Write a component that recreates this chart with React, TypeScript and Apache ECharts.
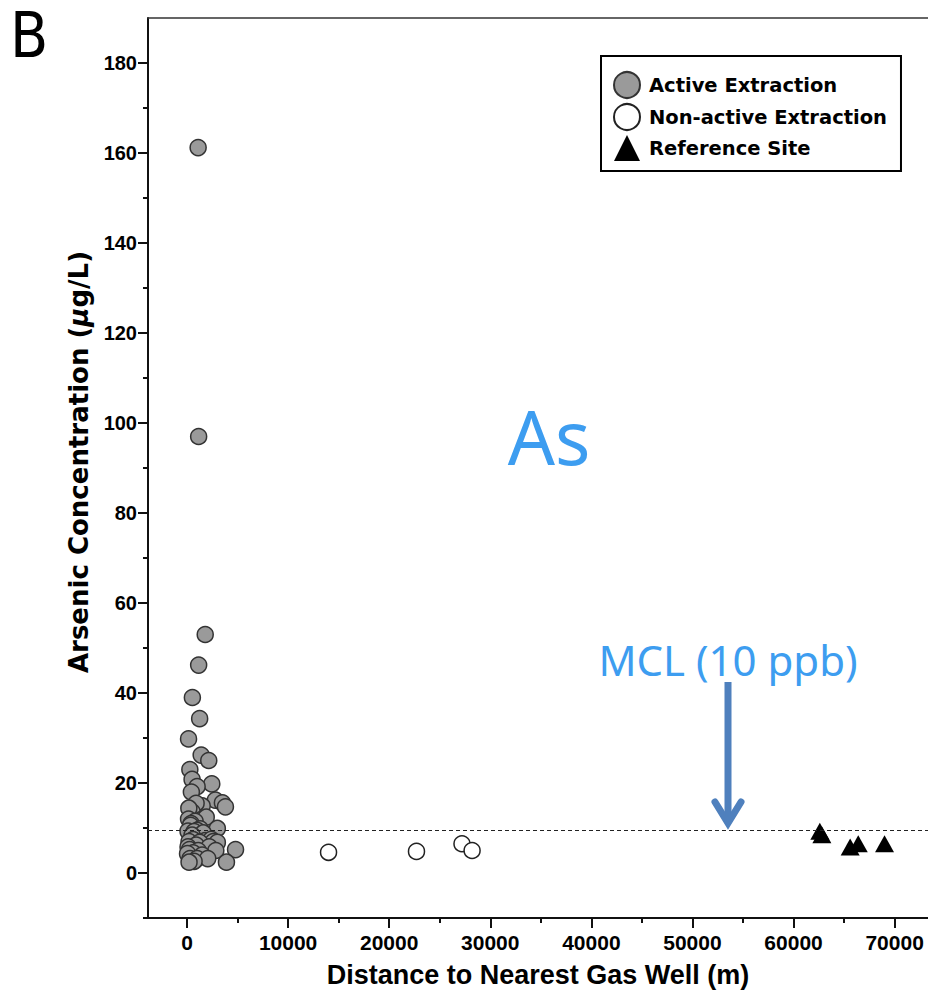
import React, { useEffect, useRef } from "react";
import * as echarts from "echarts";

// ---- data ----
const activeDistance = [
  1100, 1150, 1800, 1150, 530, 1250, 150, 1400, 2150, 280, 2450, 500, 1000, 430, 2800, 3500, 3800, 1500, 900,
  500, 180, 150, 1450, 1900, 800, 400, 350, 3000, 1300, 1000, 100, 700, 1600, 500, 1800, 600, 2400, 200, 2600,
  3000, 1250, 900, 100, 2200, 250, 1100, 2850, 4800, 600, 50, 1500, 300, 1000, 2050, 700, 200, 3900,
];
const activeArsenic = [
  161.2, 97.0, 53.0, 46.2, 39.0, 34.3, 29.8, 26.2, 25.0, 23.0, 19.8, 20.8, 19.2, 18.0, 16.2, 15.6, 14.7, 14.9, 15.5,
  13.6, 14.4, 12.0, 11.9, 12.4, 11.5, 11.0, 10.6, 9.9, 9.8, 9.5, 9.3, 9.2, 8.9, 8.4, 7.2, 7.4, 7.5, 7.0, 7.0,
  6.8, 6.8, 6.2, 5.8, 5.8, 5.2, 5.0, 5.0, 5.2, 4.5, 4.3, 4.0, 3.2, 3.2, 3.2, 2.6, 2.4, 2.4,
];
const nonActiveDistance = [14000, 22700, 27200, 28200];
const nonActiveArsenic = [4.6, 4.8, 6.5, 5.0];
const referenceDistance = [62600, 62800, 65600, 66400, 69000];
const referenceArsenic = [9.3, 8.5, 5.8, 6.5, 6.5];

const mclLevel = 9.4;

const xTickValues = [0, 10000, 20000, 30000, 40000, 50000, 60000, 70000];
const xMinorTickValues = [5000, 15000, 25000, 35000, 45000, 55000, 65000];
const yTickValues = [0, 20, 40, 60, 80, 100, 120, 140, 160, 180];
const yMinorTickValues = [-10, 10, 30, 50, 70, 90, 110, 130, 150, 170];

const seriesNames = ["Active Extraction", "Non-active Extraction", "Reference Site"];

const zip = (xs: number[], ys: number[]) => xs.map((x, i) => [x, ys[i]]);

const SANS = "'Liberation Sans', Arial, Helvetica, sans-serif";
const WIDE = "'DejaVu Sans', Verdana, sans-serif";
const NOTO = "'Noto Sans', 'Open Sans', sans-serif";

export default function App() {
  const ref = useRef<HTMLDivElement>(null);

  useEffect(() => {
    if (!ref.current) return;
    const chart = echarts.init(ref.current, null, { renderer: "svg" });

    const xMin = -3860;
    const xMax = 73300;
    const yMin = -10;
    const yMax = 190;

    const axisLineStyle = { color: "#111", width: 2 };

    chart.setOption({
      animation: false,
      backgroundColor: "#fff",
      grid: { left: 148, right: 0, top: 18, bottom: 74, containLabel: false },
      xAxis: [
        {
          type: "value",
          position: "bottom",
          min: xMin,
          max: xMax,
          axisLine: { show: true, onZero: false, lineStyle: axisLineStyle },
          axisTick: { show: true, length: 10, customValues: xTickValues, lineStyle: { color: "#111", width: 2 } },
          axisLabel: {
            customValues: xTickValues,
            formatter: (v: number) => String(v),
            fontFamily: SANS,
            fontWeight: "bold",
            fontSize: 21,
            color: "#000",
            margin: 14,
          },
          splitLine: { show: false },
          name: "Distance to Nearest Gas Well (m)",
          nameLocation: "middle",
          nameGap: 43,
          nameTextStyle: { fontFamily: SANS, fontWeight: "bold", fontSize: 27, color: "#000" },
        },
        {
          type: "value",
          position: "bottom",
          min: xMin,
          max: xMax,
          axisLine: { show: false, onZero: false },
          axisTick: { show: true, length: 5, customValues: xMinorTickValues, lineStyle: { color: "#111", width: 2 } },
          axisLabel: { show: false },
          splitLine: { show: false },
        },
        {
          type: "value",
          position: "top",
          min: xMin,
          max: xMax,
          axisLine: { show: true, onZero: false, lineStyle: { color: "#333", width: 1.5 } },
          axisTick: { show: false },
          axisLabel: { show: false },
          splitLine: { show: false },
        },
      ],
      yAxis: [
        {
          type: "value",
          position: "left",
          min: yMin,
          max: yMax,
          axisLine: { show: true, onZero: false, lineStyle: axisLineStyle },
          axisTick: { show: true, length: 10, customValues: yTickValues, lineStyle: { color: "#111", width: 2 } },
          axisLabel: {
            customValues: yTickValues,
            fontFamily: SANS,
            fontWeight: "bold",
            fontSize: 20,
            color: "#000",
            margin: 11,
          },
          splitLine: { show: false },
          name: "Arsenic Concentration ({mu|μ}g/L)",
          nameLocation: "middle",
          nameGap: 56,
          nameTextStyle: {
            fontFamily: WIDE,
            fontWeight: "bold",
            fontSize: 26,
            color: "#000",
            padding: [0, 0, 0, 12],
            rich: {
              mu: { fontFamily: WIDE, fontWeight: "bold", fontStyle: "italic", fontSize: 26, color: "#000" },
            },
          },
        },
        {
          type: "value",
          position: "left",
          min: yMin,
          max: yMax,
          axisLine: { show: false, onZero: false },
          axisTick: { show: true, length: 5, customValues: yMinorTickValues, lineStyle: { color: "#111", width: 2 } },
          axisLabel: { show: false },
          splitLine: { show: false },
        },
      ],
      legend: {
        data: [
          { name: seriesNames[0], icon: "circle" },
          { name: seriesNames[1], icon: "circle" },
          { name: seriesNames[2], icon: "triangle" },
        ],
        orient: "vertical",
        left: 601,
        top: 56,
        itemWidth: 26,
        itemHeight: 26,
        itemGap: 4,
        padding: [15, 14, 10, 12],
        borderColor: "#000",
        borderWidth: 2,
        borderRadius: 0,
        backgroundColor: "#fff",
        selectedMode: false,
        textStyle: { fontFamily: WIDE, fontWeight: "bold", fontSize: 19.5, color: "#000", padding: [0, 0, 0, 4] },
      },
      series: [
        {
          name: seriesNames[0],
          type: "scatter",
          xAxisIndex: 0,
          yAxisIndex: 0,
          symbol: "circle",
          symbolSize: 16,
          itemStyle: { color: "#9a9a9a", borderColor: "#333", borderWidth: 1.5, opacity: 1 },
          data: zip(activeDistance, activeArsenic),
          z: 2,
        },
        {
          name: seriesNames[1],
          type: "scatter",
          xAxisIndex: 0,
          yAxisIndex: 0,
          symbol: "circle",
          symbolSize: 16,
          itemStyle: { color: "#fff", borderColor: "#222", borderWidth: 1.5, opacity: 1 },
          data: zip(nonActiveDistance, nonActiveArsenic),
          z: 2,
        },
        {
          name: seriesNames[2],
          type: "scatter",
          xAxisIndex: 0,
          yAxisIndex: 0,
          symbol: "triangle",
          symbolSize: [19, 17],
          itemStyle: { color: "#000", opacity: 1 },
          data: zip(referenceDistance, referenceArsenic),
          z: 2,
        },
        {
          name: "MCL",
          type: "line",
          xAxisIndex: 0,
          yAxisIndex: 0,
          data: [],
          z: 5,
          markLine: {
            silent: true,
            symbol: ["none", "none"],
            label: { show: false },
            lineStyle: { type: [4, 3], color: "#222", width: 1.2 },
            data: [{ yAxis: mclLevel }],
          },
        },
      ],
      graphic: [
        {
          type: "text",
          x: 29,
          y: 35,
          style: {
            text: "B",
            fontFamily: "'DejaVu Sans Condensed', 'DejaVu Sans', sans-serif",
            fontSize: 62,
            fill: "#000",
            align: "center",
            verticalAlign: "middle",
          },
        },
        {
          type: "text",
          x: 549,
          y: 436,
          style: {
            text: "As",
            fontFamily: NOTO,
            fontSize: 74,
            fill: "#3d9df0",
            align: "center",
            verticalAlign: "middle",
          },
        },
        {
          type: "text",
          x: 728,
          y: 659,
          style: {
            text: "MCL (10 ppb)",
            fontFamily: NOTO,
            fontSize: 42,
            fill: "#3d9df0",
            align: "center",
            verticalAlign: "middle",
          },
        },
        {
          type: "line",
          shape: { x1: 728, y1: 682, x2: 728, y2: 820 },
          style: { stroke: "#4f80bd", lineWidth: 7 },
        },
        {
          type: "polyline",
          shape: { points: [[715, 802], [728, 823], [741, 802]] },
          style: { stroke: "#4f80bd", lineWidth: 7, fill: null, lineCap: "round", lineJoin: "miter" },
        },
      ],
    });

    return () => chart.dispose();
  }, []);

  return (
    <div
      ref={ref}
      style={{ position: "absolute", left: 0, top: 0, width: 928, height: 993, background: "#fff" }}
    />
  );
}
